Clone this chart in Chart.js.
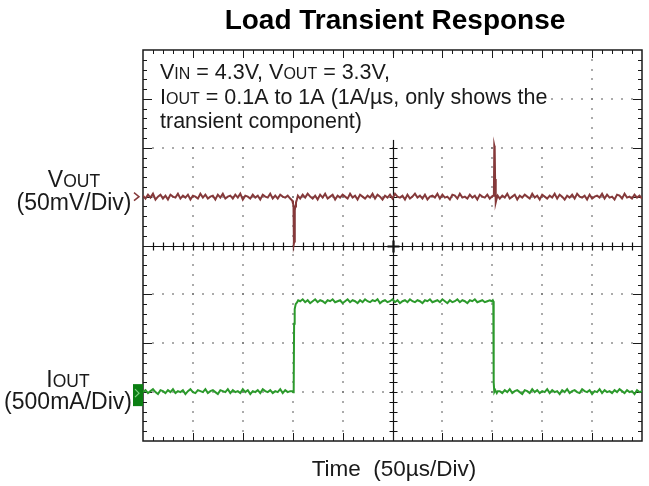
<!DOCTYPE html>
<html><head><meta charset="utf-8">
<script src="https://cdn.jsdelivr.net/npm/chart.js@4/dist/chart.umd.min.js"></script>
<style>html,body{margin:0;padding:0;background:#fff}canvas{display:block}</style>
</head><body><canvas id="c" width="649" height="486"></canvas>
<script>
// ---- time bases (µs) ----
const segATime = [0,2.5,5,7.5,10,12.5,15,17.5,20,22.5,
25,27.5,30,32.5,35,37.5,40,42.5,45,47.5,
50,52.5,55,57.5,60,62.5,65,67.5,70,72.5,
75,77.5,80,82.5,85,87.5,90,92.5,95,97.5,
100,102.5,105,107.5,110,112.5,115,117.5,120,122.5,
125,127.5,130,132.5,135,137.5,140,142.5,145,147.5];
const segBTime = [157.5,160,162.5,165,167.5,170,172.5,175,177.5,180,
182.5,185,187.5,190,192.5,195,197.5,200,202.5,205,
207.5,210,212.5,215,217.5,220,222.5,225,227.5,230,
232.5,235,237.5,240,242.5,245,247.5,250,252.5,255,
257.5,260,262.5,265,267.5,270,272.5,275,277.5,280,
282.5,285,287.5,290,292.5,295,297.5,300,302.5,305,
307.5,310,312.5,315,317.5,320,322.5,325,327.5,330,
332.5,335,337.5,340,342.5,345,347.5];
const segCTime = [357.5,360,362.5,365,367.5,370,372.5,375,377.5,380,
382.5,385,387.5,390,392.5,395,397.5,400,402.5,405,
407.5,410,412.5,415,417.5,420,422.5,425,427.5,430,
432.5,435,437.5,440,442.5,445,447.5,450,452.5,455,
457.5,460,462.5,465,467.5,470,472.5,475,477.5,480,
482.5,485,487.5,490,492.5,495,497.5,500];

// ---- VOUT transient component (mV) ----
const vEdge1Time = [149.5,150.3,150.8,151.2,151.6,152.1,152.6,153.3,154.2,155.2];
const vEdge2Time = [349.5,350.8,351.6,352.0,352.4,352.8,353.2,353.7,354.4,355.4];
const vOutA = [1,-2,2,-1,3,-3,0,2,-2,1,
-3,2,0,-1,3,-2,1,-1,2,-3,
1,0,-2,3,-1,2,-2,0,1,-3,
2,-1,3,-2,0,1,-2,2,-1,3,
-3,1,0,-2,2,-1,1,-3,2,0,
-1,3,-2,1,-2,2,0,-1,1,-2];
const vOutEdge1 = [-4,-7,-9,-48,-46,-14,-10,-6,-3,1];
const vOutB = [-2,2,-1,3,0,-2,1,-3,2,-1,
3,-2,0,2,-3,1,-1,2,0,-2,
3,-1,1,-3,2,0,-2,1,-1,3,
-2,2,0,-3,1,-1,2,-2,3,0,
-1,1,-3,2,-2,0,3,-1,1,-2,
2,-3,0,1,-1,3,-2,2,-1,0,
-3,2,1,-2,3,-1,0,-2,2,-1,
1,-3,2,0,-1,2,-2];
const vOutEdge2 = [0,1,2,52,50,18,-4,-6,-2,1];
const vOutC = [-2,1,-1,3,-2,0,2,-3,1,-1,
2,0,-2,3,-1,1,-3,2,0,-2,
1,-1,3,-2,2,0,-3,1,-1,2,
-2,3,0,-1,1,-3,2,-2,0,1,
-1,3,-2,2,-1,0,-3,2,1,-2,
3,-1,0,-2,2,-1,1,-2];

// ---- IOUT (A) ----
const iEdge1Time = [149.5,150.5,151.0,151.4,152.0,153.0,154.5,155.5];
const iEdge2Time = [349.5,350.5,351.0,351.4,352.0,353.0,354.5,355.5];
const iOutA = [0.10,0.12,0.09,0.11,0.13,0.10,0.08,0.12,0.11,0.09,
0.12,0.10,0.13,0.09,0.11,0.10,0.12,0.08,0.11,0.13,
0.10,0.09,0.12,0.11,0.10,0.13,0.09,0.11,0.12,0.10,
0.08,0.12,0.11,0.10,0.13,0.09,0.12,0.10,0.11,0.09,
0.13,0.10,0.12,0.08,0.11,0.10,0.12,0.09,0.13,0.11,
0.10,0.12,0.09,0.11,0.10,0.13,0.09,0.12,0.10,0.11];
const iOutEdge1 = [0.11,0.10,0.12,0.80,0.95,1.00,1.02,1.04];
const iOutB = [1.03,1.05,1.02,1.04,1.01,1.03,1.05,1.02,1.04,1.03,
1.01,1.04,1.03,1.05,1.02,1.03,1.04,1.01,1.03,1.05,
1.02,1.04,1.03,1.01,1.04,1.02,1.05,1.03,1.02,1.04,
1.03,1.05,1.01,1.03,1.04,1.02,1.03,1.05,1.02,1.04,
1.01,1.03,1.04,1.02,1.05,1.03,1.02,1.04,1.03,1.01,
1.04,1.03,1.05,1.02,1.03,1.04,1.02,1.05,1.03,1.01,
1.04,1.02,1.03,1.05,1.02,1.04,1.03,1.01,1.04,1.03,
1.05,1.02,1.03,1.04,1.02,1.03,1.04];
const iOutEdge2 = [1.03,1.04,1.03,0.20,0.10,0.12,0.09,0.11];
const iOutC = [0.11,0.09,0.12,0.10,0.13,0.09,0.11,0.12,0.10,0.08,
0.12,0.11,0.09,0.13,0.10,0.12,0.09,0.11,0.10,0.13,
0.09,0.12,0.10,0.11,0.08,0.12,0.10,0.13,0.09,0.11,
0.12,0.10,0.09,0.13,0.11,0.10,0.12,0.08,0.11,0.10,
0.13,0.09,0.12,0.10,0.11,0.09,0.12,0.10,0.13,0.11,
0.09,0.12,0.10,0.11,0.08,0.12,0.10,0.11];

// ---- divisions ----
const timeDivs = [0,50,100,150,200,250,300,350,400,450,500];   // 50 µs/Div
const vDivs = [-250,-200,-150,-100,-50,0,50,100,150];           // 50 mV/Div
const iDivs = [-0.4,0.1,0.6,1.1,1.6,2.1,2.6,3.1,3.6];            // 500 mA/Div

const vTime = [].concat(segATime, vEdge1Time, segBTime, vEdge2Time, segCTime);
const vOut = [].concat(vOutA, vOutEdge1, vOutB, vOutEdge2, vOutC);
const iTime = [].concat(segATime, iEdge1Time, segBTime, iEdge2Time, segCTime);
const iOut = [].concat(iOutA, iOutEdge1, iOutB, iOutEdge2, iOutC);

const FONT = '"Liberation Sans", Arial, Helvetica, sans-serif';
const VCOL = '#85393a', ICOL = '#2c9a2c';

function rich(ctx, x, y, segs, align) {
  let w = 0;
  segs.forEach(s => { ctx.font = (s.b ? 'bold ' : '') + s.s + 'px ' + FONT; s.w = ctx.measureText(s.t).width; w += s.w; });
  let cx = align === 'center' ? x - w / 2 : x;
  ctx.textAlign = 'left'; ctx.textBaseline = 'alphabetic';
  segs.forEach(s => { ctx.font = (s.b ? 'bold ' : '') + s.s + 'px ' + FONT; ctx.fillText(s.t, cx, y); cx += s.w; });
}

const scopePlugin = {
  id: 'scope',
  beforeDatasetsDraw(chart) {
    const ctx = chart.ctx, a = chart.chartArea;
    const xs = chart.scales.x, yv = chart.scales.yV;
    ctx.save();
    // dotted graticule
    ctx.fillStyle = '#6a6a6a';
    const tMin = timeDivs[0], tMax = timeDivs[timeDivs.length - 1];
    const vMin = vDivs[0], vMax = vDivs[vDivs.length - 1];
    timeDivs.slice(1, -1).forEach(t => {
      if (t === 250) return;
      const px = xs.getPixelForValue(t);
      for (let v = vMin + 10; v < vMax; v += 10) {
        const py = yv.getPixelForValue(v);
        ctx.fillRect(Math.round(px) - 0.75, Math.round(py) - 0.75, 1.5, 1.5);
      }
    });
    vDivs.slice(1, -1).forEach(v => {
      if (v === -50) return;
      const py = yv.getPixelForValue(v);
      for (let t = tMin + 10; t < tMax; t += 10) {
        const px = xs.getPixelForValue(t);
        ctx.fillRect(Math.round(px) - 0.75, Math.round(py) - 0.75, 1.5, 1.5);
      }
    });
    // center axes
    const cx = Math.round(xs.getPixelForValue(250)) + 0.5;
    const cy = Math.round(yv.getPixelForValue(-50)) + 0.5;
    ctx.strokeStyle = '#111'; ctx.lineWidth = 1.2;
    ctx.beginPath();
    ctx.moveTo(cx, a.top); ctx.lineTo(cx, a.bottom);
    ctx.moveTo(a.left, cy); ctx.lineTo(a.right, cy);
    for (let v = vMin + 10; v < vMax; v += 10) {
      const py = Math.round(yv.getPixelForValue(v)) + 0.5;
      ctx.moveTo(cx - 4, py); ctx.lineTo(cx + 4, py);
    }
    for (let t = tMin + 10; t < tMax; t += 10) {
      const px = Math.round(xs.getPixelForValue(t)) + 0.5;
      ctx.moveTo(px, cy - 4); ctx.lineTo(px, cy + 4);
    }
    ctx.stroke();
    ctx.lineWidth = 2.2;
    ctx.beginPath();
    ctx.moveTo(cx - 6, cy); ctx.lineTo(cx + 6, cy);
    ctx.moveTo(cx, cy - 6); ctx.lineTo(cx, cy + 6);
    ctx.stroke();
    // annotation background
    const bx0 = xs.getPixelForValue(1), bx1 = xs.getPixelForValue(408);
    const by0 = yv.getPixelForValue(146), by1 = yv.getPixelForValue(58);
    ctx.fillStyle = '#fff';
    ctx.fillRect(bx0, by0, bx1 - bx0, by1 - by0);
    // border and border ticks
    ctx.strokeStyle = '#1a1a1a'; ctx.lineWidth = 1.5;
    ctx.strokeRect(a.left, a.top, a.right - a.left, a.bottom - a.top);
    ctx.lineWidth = 1;
    ctx.beginPath();
    for (let t = tMin + 10; t < tMax; t += 10) {
      const px = Math.round(xs.getPixelForValue(t)) + 0.5;
      const L = (t % 50 === 0) ? 8 : 4;
      ctx.moveTo(px, a.top); ctx.lineTo(px, a.top + L);
      ctx.moveTo(px, a.bottom); ctx.lineTo(px, a.bottom - L);
    }
    for (let v = vMin + 10; v < vMax; v += 10) {
      const py = Math.round(yv.getPixelForValue(v)) + 0.5;
      const L = (v % 50 === 0) ? 9 : 4;
      ctx.moveTo(a.left, py); ctx.lineTo(a.left + L, py);
      ctx.moveTo(a.right, py); ctx.lineTo(a.right - L, py);
    }
    ctx.stroke();
    ctx.restore();
  },
  afterDraw(chart) {
    const ctx = chart.ctx, a = chart.chartArea;
    const xs = chart.scales.x, yv = chart.scales.yV, yi = chart.scales.yI;
    ctx.save();
    // channel markers
    const pv = yv.getPixelForValue(0);
    ctx.strokeStyle = VCOL; ctx.lineWidth = 1.5;
    ctx.beginPath();
    ctx.moveTo(a.left - 9, pv - 4); ctx.lineTo(a.left - 4, pv); ctx.lineTo(a.left - 9, pv + 4);
    ctx.stroke();
    const pi = yi.getPixelForValue(iOutA[0]);
    ctx.fillStyle = '#0b7f12';
    ctx.fillRect(a.left - 10, pi - 8, 10, 22);
    ctx.strokeStyle = '#7fd07f'; ctx.lineWidth = 1.2;
    ctx.beginPath();
    ctx.moveTo(a.left - 8, pi - 3); ctx.lineTo(a.left - 4, pi + 1); ctx.lineTo(a.left - 8, pi + 5);
    ctx.stroke();
    // texts
    ctx.fillStyle = '#000';
    rich(ctx, 395, 29, [{t: 'Load Transient Response', s: 28, b: true}], 'center');
    ctx.fillStyle = '#1a1a1a';
    const ax = 160;
    rich(ctx, ax, 79, [{t: 'V', s: 21.5}, {t: 'IN', s: 16}, {t: ' = 4.3V, V', s: 21.5}, {t: 'OUT', s: 16}, {t: ' = 3.3V,', s: 21.5}]);
    rich(ctx, ax, 104, [{t: 'I', s: 21.5}, {t: 'OUT', s: 16}, {t: ' = 0.1A to 1A (1A/\u00b5s, only shows the', s: 21.5}]);
    rich(ctx, ax, 128, [{t: 'transient component)', s: 21.5}]);
    rich(ctx, 74, 187, [{t: 'V', s: 23}, {t: 'OUT', s: 17.5}], 'center');
    rich(ctx, 74, 210, [{t: '(50mV/Div)', s: 23}], 'center');
    rich(ctx, 68, 387, [{t: 'I', s: 23}, {t: 'OUT', s: 17.5}], 'center');
    rich(ctx, 68, 409, [{t: '(500mA/Div)', s: 23}], 'center');
    rich(ctx, 394, 476, [{t: 'Time  (50\u00b5s/Div)', s: 22.5}], 'center');
    ctx.restore();
  }
};

new Chart(document.getElementById('c'), {
  type: 'line',
  data: {
    datasets: [
      { label: 'VOUT', yAxisID: 'yV', data: vTime.map((t, k) => ({x: t, y: vOut[k]})),
        borderColor: VCOL, borderWidth: 2, pointRadius: 0, tension: 0, fill: false },
      { label: 'IOUT', yAxisID: 'yI', data: iTime.map((t, k) => ({x: t, y: iOut[k]})),
        borderColor: ICOL, borderWidth: 2, pointRadius: 0, tension: 0, fill: false }
    ]
  },
  options: {
    responsive: false, animation: false, devicePixelRatio: 1,
    layout: { padding: { left: 143, right: 7, top: 50, bottom: 45 } },
    plugins: { legend: { display: false }, tooltip: { enabled: false }, title: { display: false } },
    scales: {
      x: { type: 'linear', min: timeDivs[0], max: timeDivs[timeDivs.length - 1], display: false },
      yV: { type: 'linear', min: vDivs[0], max: vDivs[vDivs.length - 1], display: false },
      yI: { type: 'linear', min: iDivs[0], max: iDivs[iDivs.length - 1], display: false }
    }
  },
  plugins: [scopePlugin]
});
</script>
</body></html>
